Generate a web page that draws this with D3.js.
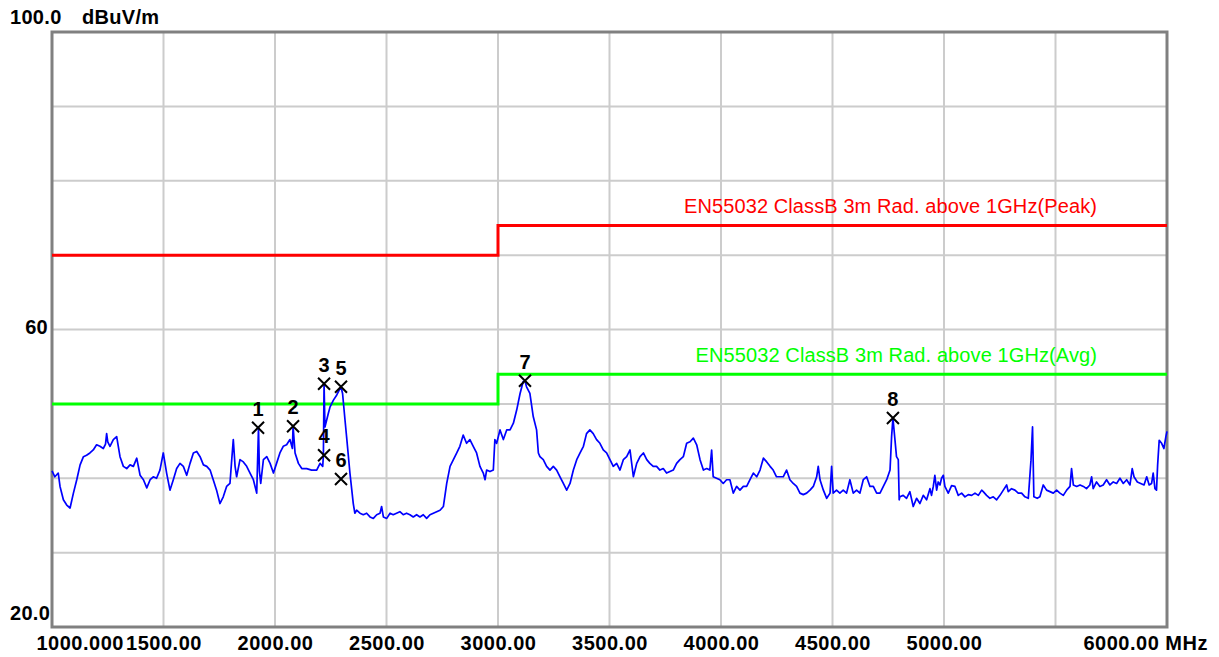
<!DOCTYPE html>
<html><head><meta charset="utf-8">
<script src="https://cdn.jsdelivr.net/npm/d3@7"></script>
<style>
html,body{margin:0;padding:0;background:#fff;}
svg{display:block;font-family:"Liberation Sans",Arial,sans-serif;}
</style></head>
<body><svg id="c" width="1219" height="657"></svg>
<script>
// ---- data ----
const xTicks = [1000,1500,2000,2500,3000,3500,4000,4500,5000,5500,6000];
const xTickLabels = ["1000.000","1500.00","2000.00","2500.00","3000.00","3500.00","4000.00","4500.00","5000.00","","6000.00 MHz"];
const yTicks = [20,30,40,50,60,70,80,90,100];
const yTickLabels = [{v:100,t:"100.0"},{v:60,t:"60"},{v:20,t:"20.0"}];
const yUnit = "dBuV/m";
const peakLimit = [[1000,70],[3000,70],[3000,74],[6000,74]];
const avgLimit  = [[1000,50],[3000,50],[3000,54],[6000,54]];
const peakLabel = "EN55032 ClassB 3m Rad. above 1GHz(Peak)";
const avgLabel  = "EN55032 ClassB 3m Rad. above 1GHz(Avg)";
const markers = [
  {n:"1",f:1924,v:46.8},{n:"2",f:2081,v:47.0},{n:"3",f:2220,v:52.7},{n:"4",f:2220,v:43.1},
  {n:"5",f:2296,v:52.3},{n:"6",f:2296,v:39.9},{n:"7",f:3121,v:53.1},{n:"8",f:4771,v:48.1}
];
const trace = [
[1000,41.0],[1013,40.2],[1028,40.7],[1036,38.9],[1051,37.1],[1066,36.4],[1081,36.0],[1096,38.0],[1111,39.8],[1126,41.8],
[1141,42.9],[1155,43.1],[1170,43.4],[1185,43.8],[1200,44.5],[1215,44.3],[1230,44.0],[1240,44.6],[1245,46.0],[1250,44.9],[1260,44.3],
[1275,45.2],[1290,45.6],[1305,42.9],[1320,41.6],[1335,41.3],[1350,41.8],[1365,41.6],[1380,42.7],[1395,40.4],[1410,39.8],
[1425,38.7],[1440,39.8],[1454,40.2],[1469,40.0],[1484,41.1],[1499,43.4],[1514,40.7],[1529,38.4],[1544,39.8],[1559,41.3],
[1574,42.0],[1589,41.6],[1604,40.4],[1619,42.0],[1634,43.4],[1649,43.6],[1664,42.9],[1679,41.8],[1694,41.6],[1709,41.1],
[1723,39.8],[1738,38.4],[1753,36.6],[1768,37.5],[1783,38.9],[1798,39.3],[1806,42.5],[1813,45.2],[1821,41.6],[1828,40.2],
[1843,42.5],[1858,42.2],[1873,41.6],[1888,40.7],[1903,39.8],[1918,38.0],[1926,46.8],[1930,41.0],[1936,39.3],[1948,42.5],
[1963,42.9],[1978,42.0],[1993,40.7],[2007,42.0],[2022,43.4],[2037,44.3],[2052,44.5],[2067,45.2],[2078,44.0],[2081,47.0],[2090,43.4],
[2105,42.0],[2120,41.3],[2142,41.3],[2164,41.1],[2187,41.1],[2202,42.0],[2214,41.6],[2217,43.1],[2220,52.7],[2224,46.9],
[2239,48.7],[2247,49.6],[2262,50.5],[2277,51.2],[2292,52.1],[2296,52.3],[2303,51.4],[2314,47.8],[2321,45.6],[2336,40.7],
[2351,36.6],[2358,35.3],[2366,35.7],[2381,35.3],[2396,35.1],[2411,35.3],[2426,34.8],[2441,34.6],[2456,35.1],[2471,35.3],
[2478,36.2],[2486,34.8],[2501,34.6],[2516,35.3],[2530,35.1],[2545,35.3],[2560,35.5],[2575,35.1],[2590,35.3],[2605,35.1],
[2620,34.8],[2635,35.1],[2650,34.8],[2665,35.1],[2680,34.6],[2695,35.1],[2710,35.3],[2725,35.5],[2740,35.7],[2755,36.2],
[2770,39.3],[2785,41.6],[2800,42.5],[2815,43.4],[2829,44.3],[2844,45.8],[2859,44.7],[2874,45.2],[2889,44.3],[2904,43.4],
[2919,41.6],[2934,40.7],[2942,39.8],[2949,41.1],[2964,40.9],[2979,41.1],[2986,45.2],[2994,44.7],[3009,46.5],[3024,45.2],
[3039,46.5],[3054,46.5],[3069,47.4],[3084,49.2],[3099,51.4],[3113,53.0],[3121,53.1],[3128,52.3],[3143,51.4],[3158,48.3],
[3173,46.5],[3181,43.4],[3188,42.9],[3203,42.5],[3218,41.6],[3233,41.1],[3248,41.6],[3263,41.1],[3278,40.2],[3293,39.3],
[3308,38.4],[3323,39.3],[3338,41.1],[3353,42.5],[3368,43.4],[3383,44.3],[3397,46.0],[3412,46.5],[3427,46.0],[3442,45.2],
[3457,44.7],[3472,43.8],[3487,43.4],[3502,42.5],[3517,41.6],[3532,42.0],[3547,41.1],[3562,42.5],[3577,42.9],[3592,43.8],
[3607,40.2],[3622,42.0],[3637,42.9],[3652,43.4],[3667,42.5],[3681,42.0],[3696,41.6],[3711,41.6],[3726,41.1],[3741,41.3],
[3756,40.7],[3771,40.9],[3786,41.1],[3801,42.0],[3816,42.5],[3831,42.9],[3846,44.7],[3861,44.9],[3876,45.4],[3891,44.5],
[3906,42.5],[3921,41.1],[3936,41.3],[3950,41.1],[3958,43.8],[3965,40.2],[3980,40.0],[3995,39.8],[4010,39.3],[4025,39.8],
[4040,39.8],[4055,38.0],[4070,38.9],[4085,38.4],[4100,38.9],[4115,38.9],[4130,39.8],[4145,40.7],[4160,40.2],[4175,41.1],
[4190,42.7],[4205,42.2],[4220,41.6],[4234,41.1],[4249,40.2],[4264,40.2],[4279,40.2],[4294,41.1],[4309,39.8],[4324,39.3],
[4339,38.9],[4354,38.0],[4369,37.8],[4384,38.0],[4399,38.4],[4414,38.9],[4429,40.2],[4436,41.6],[4444,39.8],[4459,38.4],
[4474,37.3],[4489,38.0],[4496,41.6],[4503,38.0],[4518,38.4],[4533,38.0],[4548,38.4],[4563,38.0],[4578,39.8],[4593,38.0],
[4608,38.4],[4623,38.0],[4638,39.8],[4653,40.2],[4668,38.9],[4683,38.9],[4698,38.0],[4713,38.0],[4728,38.9],[4743,39.8],
[4758,41.1],[4765,45.6],[4771,48.1],[4780,45.2],[4787,42.9],[4795,42.5],[4799,37.1],
[4802,37.5],[4817,37.7],[4832,37.3],[4847,38.2],[4862,36.2],[4877,37.3],[4892,36.6],[4907,37.7],[4922,37.1],[4937,38.6],
[4944,37.7],[4952,38.9],[4959,40.4],[4967,38.4],[4974,39.5],[4982,39.1],[4989,40.0],[4997,40.4],[5004,38.9],[5019,38.0],
[5034,39.0],[5049,38.9],[5064,37.7],[5079,38.0],[5094,37.5],[5109,37.8],[5124,37.7],[5139,38.0],[5154,37.7],[5169,38.4],
[5176,38.2],[5191,37.7],[5206,37.3],[5221,37.5],[5236,37.1],[5251,37.7],[5266,38.4],[5281,39.1],[5288,38.2],[5303,38.6],
[5318,38.4],[5333,38.0],[5348,38.0],[5363,37.5],[5378,37.3],[5390,42.4],[5397,46.9],[5403,37.5],[5418,37.3],[5430,37.5],
[5445,39.1],[5460,38.4],[5475,38.2],[5490,38.0],[5505,38.4],[5520,38.0],[5535,37.7],[5550,38.4],[5565,38.9],[5572,41.3],
[5580,39.1],[5595,38.9],[5610,39.1],[5625,38.9],[5639,38.6],[5654,39.1],[5662,40.2],[5669,38.6],[5684,39.5],[5699,38.9],
[5714,39.1],[5729,39.8],[5744,39.1],[5759,39.5],[5774,39.3],[5789,40.0],[5804,39.3],[5819,39.8],[5834,39.1],[5844,41.3],
[5852,40.2],[5867,39.5],[5882,39.3],[5897,39.1],[5909,40.2],[5920,39.1],[5931,39.3],[5938,40.7],[5946,38.6],[5953,38.4],
[5958,41.8],[5965,45.1],[5976,44.7],[5986,44.0],[5995,45.6],[6000,46.3]
];

// ---- layout ----
const svg = d3.select("#c");
const L = 52, R = 1167, T = 32, B = 627;
const x = d3.scaleLinear().domain([1000,6000]).range([L,R]);
const y = d3.scaleLinear().domain([20,100]).range([B,T]);

// grid
const g = svg.append("g");
g.selectAll("line.vx").data(xTicks.slice(1,-1)).join("line")
  .attr("x1",d=>x(d)).attr("x2",d=>x(d)).attr("y1",T).attr("y2",B)
  .attr("stroke","#cccccc").attr("stroke-width",2);
g.selectAll("line.hy").data(yTicks.slice(1,-1)).join("line")
  .attr("x1",L).attr("x2",R).attr("y1",d=>y(d)).attr("y2",d=>y(d))
  .attr("stroke","#cccccc").attr("stroke-width",2);

// frame
svg.append("rect").attr("x",L).attr("y",T).attr("width",R-L).attr("height",B-T)
  .attr("fill","none").attr("stroke","#808080").attr("stroke-width",3);

// x axis labels via d3 axis
const xAxis = d3.axisBottom(x).tickValues(xTicks).tickSize(0).tickPadding(0)
  .tickFormat((d,i)=>xTickLabels[i]);
const xa = svg.append("g").attr("transform",`translate(0,${B})`).call(xAxis);
xa.select(".domain").remove();
xa.selectAll("text").attr("fill","#000").attr("font-size",20).attr("font-weight","bold")
  .attr("letter-spacing",0.5).attr("dy",null).attr("y",23)
  .attr("font-family","'Liberation Sans',Arial,sans-serif")
  .each(function(d,i){
    const t=d3.select(this);
    if(i===0){t.attr("text-anchor","start").attr("x",-16);}
    else if(i===xTicks.length-1){t.attr("text-anchor","start").attr("x",-84);}
  });

// y labels
const yOff = {100:-8, 60:4, 20:-7};
svg.selectAll("text.yl").data(yTickLabels).join("text")
  .attr("x",d=>d.v===60?48:10).attr("text-anchor",d=>d.v===60?"end":"start")
  .attr("y",d=>y(d.v)+yOff[d.v])
  .attr("font-size",20).attr("font-weight","bold").attr("letter-spacing",0.3).text(d=>d.t);
svg.append("text").attr("x",82).attr("y",y(100)-8).attr("font-size",20).attr("font-weight","bold")
  .attr("letter-spacing",0.3).text(yUnit);

// limit lines
const line = d3.line().x(d=>x(d[0])).y(d=>y(d[1]));
svg.append("path").datum(peakLimit).attr("d",line).attr("fill","none").attr("stroke","#ff0000").attr("stroke-width",3);
svg.append("path").datum(avgLimit).attr("d",line).attr("fill","none").attr("stroke","#00ff00").attr("stroke-width",3);
svg.append("text").attr("x",1097).attr("y",y(peakLimit[3][1])-12).attr("text-anchor","end")
  .attr("fill","#ff0000").attr("font-size",20).attr("letter-spacing",0.1).text(peakLabel);
svg.append("text").attr("x",1097).attr("y",y(avgLimit[3][1])-12).attr("text-anchor","end")
  .attr("fill","#00ff00").attr("font-size",20).attr("letter-spacing",0.1).text(avgLabel);

// trace
svg.append("path").datum(trace).attr("d",line).attr("fill","none")
  .attr("stroke","#0000ff").attr("stroke-width",1.7).attr("stroke-linejoin","round");

// markers
const mg = svg.selectAll("g.mk").data(markers).join("g")
  .attr("transform",d=>`translate(${x(d.f)},${y(d.v)})`);
mg.append("path").attr("d","M-6,-6L6,6M-6,6L6,-6").attr("stroke","#000").attr("stroke-width",2);
mg.append("text").attr("y",-12).attr("text-anchor","middle").attr("font-size",20)
  .attr("font-weight","bold").text(d=>d.n);
</script></body></html>
